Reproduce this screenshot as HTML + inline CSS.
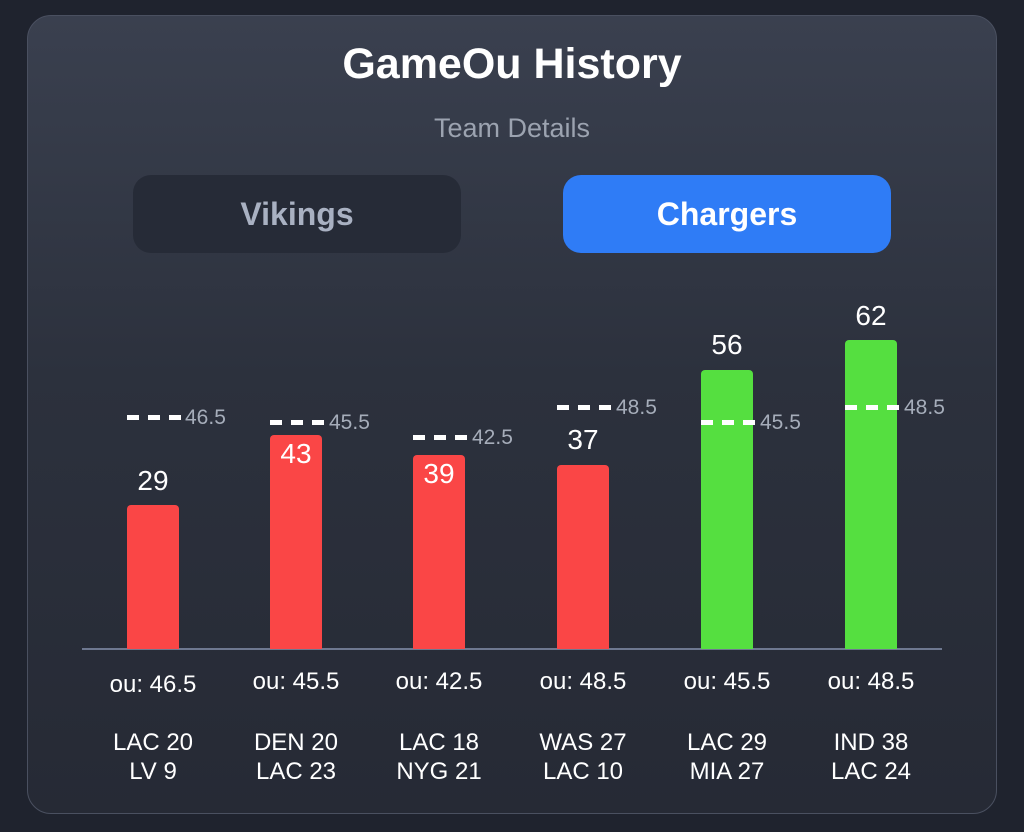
<!DOCTYPE html>
<html><head><meta charset="utf-8"><style>
body{margin:0;width:1024px;height:832px;background:#1f232e;font-family:"Liberation Sans","DejaVu Sans",sans-serif;position:relative;overflow:hidden}
.card{position:absolute;left:27px;top:15px;width:970px;height:799px;border-radius:24px;background:linear-gradient(180deg,#3a404f 0%,#2c313d 45%,#262a35 100%);border:1px solid #4a5060;box-sizing:border-box}
.t{position:absolute;left:0;width:1024px;text-align:center}
.btn{position:absolute;top:175px;width:328px;height:78px;border-radius:18px;font-weight:bold;font-size:32px;line-height:78px;text-align:center}
.bar{position:absolute;width:52px;border-radius:4px 4px 0 0}
.v{position:absolute;width:80px;text-align:center;color:#fff;font-size:28px}
.d{position:absolute;width:54px;height:5px;background:repeating-linear-gradient(90deg,#fff 0 12px,transparent 12px 21px)}
.dl{position:absolute;color:#a6adba;font-size:21px}
.lb{position:absolute;width:140px;text-align:center;color:#fff;font-size:24px}
</style></head><body>
<div class="card"></div>
<div class="t" style="top:40px;font-size:43px;font-weight:bold;color:#fff">GameOu History</div>
<div class="t" style="top:113px;font-size:27px;color:#9ca3b0">Team Details</div>
<div class="btn" style="left:133px;background:#262b37;color:#a9b1c2">Vikings</div>
<div class="btn" style="left:563px;background:#2f7cf6;color:#fff">Chargers</div>
<div style="position:absolute;left:82px;top:648px;width:860px;height:2px;background:#6e7890"></div>

<div class="bar" style="left:127px;top:505px;height:144px;background:#fa4646"></div>
<div class="bar" style="left:270px;top:435px;height:214px;background:#fa4646"></div>
<div class="bar" style="left:413px;top:455px;height:194px;background:#fa4646"></div>
<div class="bar" style="left:557px;top:465px;height:184px;background:#fa4646"></div>
<div class="bar" style="left:701px;top:370px;height:279px;background:#55df40"></div>
<div class="bar" style="left:845px;top:340px;height:309px;background:#55df40"></div>

<div class="v" style="left:113px;top:465px">29</div>
<div class="v" style="left:256px;top:438px">43</div>
<div class="v" style="left:399px;top:458px">39</div>
<div class="v" style="left:543px;top:424px">37</div>
<div class="v" style="left:687px;top:329px">56</div>
<div class="v" style="left:831px;top:300px">62</div>

<div class="d" style="left:127px;top:415px"></div><div class="dl" style="left:185px;top:406px">46.5</div>
<div class="d" style="left:270px;top:420px"></div><div class="dl" style="left:329px;top:411px">45.5</div>
<div class="d" style="left:413px;top:435px"></div><div class="dl" style="left:472px;top:426px">42.5</div>
<div class="d" style="left:557px;top:405px"></div><div class="dl" style="left:616px;top:396px">48.5</div>
<div class="d" style="left:701px;top:420px"></div><div class="dl" style="left:760px;top:411px">45.5</div>
<div class="d" style="left:845px;top:405px"></div><div class="dl" style="left:904px;top:396px">48.5</div>

<div class="lb" style="left:83px;top:671px">ou: 46.5</div>
<div class="lb" style="left:226px;top:668px">ou: 45.5</div>
<div class="lb" style="left:369px;top:668px">ou: 42.5</div>
<div class="lb" style="left:513px;top:668px">ou: 48.5</div>
<div class="lb" style="left:657px;top:668px">ou: 45.5</div>
<div class="lb" style="left:801px;top:668px">ou: 48.5</div>

<div class="lb" style="left:83px;top:728px;line-height:29px">LAC 20<br>LV 9</div>
<div class="lb" style="left:226px;top:728px;line-height:29px">DEN 20<br>LAC 23</div>
<div class="lb" style="left:369px;top:728px;line-height:29px">LAC 18<br>NYG 21</div>
<div class="lb" style="left:513px;top:728px;line-height:29px">WAS 27<br>LAC 10</div>
<div class="lb" style="left:657px;top:728px;line-height:29px">LAC 29<br>MIA 27</div>
<div class="lb" style="left:801px;top:728px;line-height:29px">IND 38<br>LAC 24</div>
</body></html>
